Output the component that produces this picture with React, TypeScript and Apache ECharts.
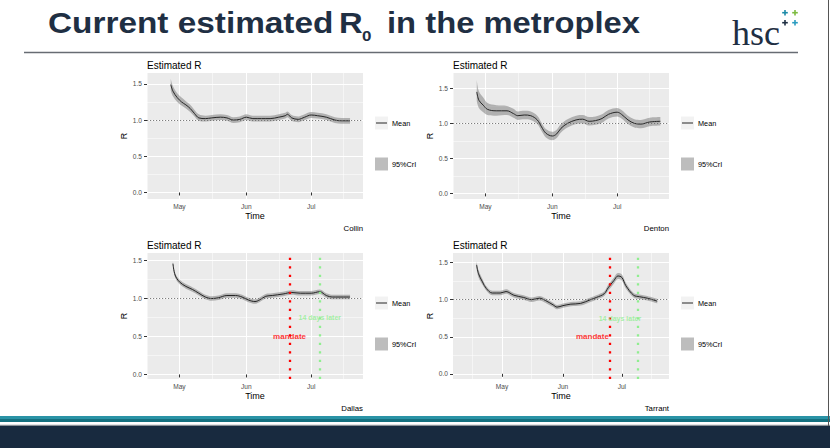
import React, { useEffect, useRef } from 'react';
import * as echarts from 'echarts';

const FONT = '"Liberation Sans", Arial, Helvetica, sans-serif';
const SERIF = '"Liberation Serif", "Times New Roman", serif';
const YEAR = '2020-';

// ---------- data (dates are MM-DD in 2020) ----------
const collinDates = ['04-27', '04-28', '04-30', '05-02', '05-04', '05-06', '05-08', '05-10', '05-13', '05-16', '05-20', '05-23', '05-26', '05-29', '06-01', '06-04', '06-08', '06-12', '06-16', '06-19', '06-20', '06-22', '06-25', '06-28', '07-01', '07-04', '07-08', '07-12', '07-15', '07-19'];
const collinMean = [1.49, 1.40, 1.31, 1.25, 1.21, 1.16, 1.09, 1.03, 1.02, 1.03, 1.04, 1.03, 1.00, 1.01, 1.04, 1.02, 1.02, 1.02, 1.04, 1.06, 1.08, 1.03, 1.01, 1.04, 1.07, 1.06, 1.04, 1.00, 0.99, 0.99];
const collinLo = [1.41, 1.33, 1.25, 1.20, 1.16, 1.11, 1.05, 0.99, 0.98, 0.99, 1.00, 0.99, 0.96, 0.97, 1.00, 0.98, 0.98, 0.98, 1.00, 1.02, 1.04, 0.99, 0.97, 1.00, 1.03, 1.02, 1.00, 0.96, 0.95, 0.95];
const collinHi = [1.57, 1.47, 1.37, 1.31, 1.26, 1.21, 1.14, 1.08, 1.06, 1.07, 1.08, 1.07, 1.04, 1.05, 1.08, 1.06, 1.06, 1.06, 1.08, 1.10, 1.12, 1.07, 1.05, 1.08, 1.11, 1.10, 1.08, 1.04, 1.03, 1.03];

const dentonDates = ['04-27', '04-28', '04-30', '05-02', '05-06', '05-11', '05-14', '05-16', '05-19', '05-22', '05-25', '05-27', '05-29', '06-01', '06-03', '06-05', '06-08', '06-12', '06-15', '06-18', '06-21', '06-24', '06-27', '07-01', '07-03', '07-06', '07-09', '07-12', '07-16', '07-21'];
const dentonMean = [1.45, 1.33, 1.26, 1.20, 1.18, 1.18, 1.14, 1.11, 1.12, 1.11, 1.05, 0.95, 0.86, 0.82, 0.85, 0.93, 1.00, 1.05, 1.06, 1.03, 1.04, 1.07, 1.13, 1.16, 1.13, 1.05, 1.00, 0.99, 1.02, 1.03];
const dentonLo = [1.32, 1.22, 1.16, 1.12, 1.11, 1.12, 1.08, 1.05, 1.06, 1.05, 0.99, 0.89, 0.80, 0.76, 0.79, 0.87, 0.94, 0.99, 1.00, 0.97, 0.98, 1.01, 1.07, 1.10, 1.07, 0.99, 0.94, 0.93, 0.96, 0.97];
const dentonHi = [1.62, 1.46, 1.37, 1.29, 1.26, 1.25, 1.21, 1.17, 1.18, 1.17, 1.11, 1.01, 0.92, 0.88, 0.91, 0.99, 1.06, 1.11, 1.12, 1.09, 1.10, 1.13, 1.19, 1.22, 1.19, 1.11, 1.06, 1.05, 1.08, 1.09];

const dallasDates = ['04-28', '04-29', '05-01', '05-04', '05-07', '05-10', '05-13', '05-16', '05-19', '05-23', '05-27', '05-30', '06-02', '06-05', '06-07', '06-10', '06-13', '06-18', '06-22', '06-26', '07-01', '07-05', '07-08', '07-11', '07-19'];
const dallasMean = [1.46, 1.31, 1.22, 1.16, 1.12, 1.07, 1.02, 1.00, 1.01, 1.04, 1.04, 1.02, 0.98, 0.96, 0.98, 1.03, 1.04, 1.06, 1.08, 1.07, 1.07, 1.09, 1.04, 1.02, 1.02];
const dallasLo = [1.43, 1.28, 1.19, 1.13, 1.09, 1.04, 0.99, 0.97, 0.98, 1.01, 1.01, 0.99, 0.95, 0.93, 0.95, 1.00, 1.01, 1.03, 1.05, 1.04, 1.04, 1.06, 1.01, 0.99, 0.99];
const dallasHi = [1.49, 1.34, 1.25, 1.19, 1.15, 1.10, 1.05, 1.03, 1.04, 1.07, 1.07, 1.05, 1.01, 0.99, 1.01, 1.06, 1.07, 1.09, 1.11, 1.10, 1.10, 1.12, 1.07, 1.05, 1.05];

const tarrantDates = ['04-18', '04-19', '04-21', '04-23', '04-26', '04-30', '05-03', '05-07', '05-12', '05-16', '05-20', '05-23', '05-27', '05-29', '06-01', '06-05', '06-10', '06-15', '06-18', '06-22', '06-24', '06-27', '06-29', '07-01', '07-03', '07-07', '07-10', '07-14', '07-19'];
const tarrantMean = [1.47, 1.35, 1.24, 1.15, 1.09, 1.09, 1.11, 1.06, 1.03, 1.00, 1.02, 0.99, 0.93, 0.90, 0.92, 0.94, 0.95, 1.00, 1.03, 1.08, 1.16, 1.26, 1.32, 1.30, 1.19, 1.06, 1.04, 1.02, 0.98];
const tarrantLo = [1.42, 1.30, 1.20, 1.12, 1.06, 1.06, 1.08, 1.03, 1.00, 0.97, 0.99, 0.96, 0.90, 0.87, 0.89, 0.91, 0.92, 0.97, 1.00, 1.05, 1.12, 1.22, 1.28, 1.26, 1.15, 1.03, 1.01, 0.99, 0.95];
const tarrantHi = [1.52, 1.40, 1.28, 1.18, 1.12, 1.12, 1.14, 1.09, 1.06, 1.03, 1.05, 1.02, 0.96, 0.93, 0.95, 0.97, 0.98, 1.03, 1.06, 1.11, 1.20, 1.30, 1.36, 1.34, 1.23, 1.09, 1.07, 1.05, 1.01];

// ---------- ticks / labels ----------
const monthTicks = ['05-01', '06-01', '07-01'];
const monthLabels = ['May', 'Jun', 'Jul'];
const minorDays = ['04-16', '05-16', '06-16', '07-16'];
const yTicks = [0, 0.5, 1.0, 1.5];
const yMinor = [0.25, 0.75, 1.25];
const countyNames = ['Collin', 'Denton', 'Dallas', 'Tarrant'];
const legendLabels = ['Mean', '95%CrI'];
const refLine = 1;

// mandate annotations (Dallas, Tarrant)
const mandateDates = ['06-21', '06-25'];
const laterDates = ['07-05', '07-09'];
const mandateLabelAt: [string, number][] = [['06-21', 0.5], ['06-16', 0.5]];
const laterLabelAt: [string, number][] = [['07-05', 0.75], ['06-30', 0.75]];

const datasets = [
  { dates: collinDates, mean: collinMean, lo: collinLo, hi: collinHi },
  { dates: dentonDates, mean: dentonMean, lo: dentonLo, hi: dentonHi },
  { dates: dallasDates, mean: dallasMean, lo: dallasLo, hi: dallasHi },
  { dates: tarrantDates, mean: tarrantMean, lo: tarrantLo, hi: tarrantHi },
];

// ---------- layout ----------
const layouts = [
  { left: 147, top: 73, width: 216, height: 126, xStart: '04-16', xEnd: '07-25', yMin: -0.09, yMax: 1.65 },
  { left: 453, top: 73, width: 216, height: 126, xStart: '04-16', xEnd: '07-25', yMin: -0.08, yMax: 1.72 },
  { left: 147, top: 253, width: 216, height: 126, xStart: '04-16', xEnd: '07-25', yMin: -0.06, yMax: 1.60 },
  { left: 453, top: 253, width: 216, height: 126, xStart: '04-06', xEnd: '07-25', yMin: -0.07, yMax: 1.63 },
];

function dayList(start: string, end: string): string[] {
  const out: string[] = [];
  const s = new Date(Date.UTC(2020, +start.slice(0, 2) - 1, +start.slice(3)));
  const e = new Date(Date.UTC(2020, +end.slice(0, 2) - 1, +end.slice(3)));
  for (let d = s; d.getTime() <= e.getTime(); d = new Date(d.getTime() + 86400000)) {
    const mm = String(d.getUTCMonth() + 1).padStart(2, '0');
    const dd = String(d.getUTCDate()).padStart(2, '0');
    out.push(mm + '-' + dd);
  }
  return out;
}

function yCats(min: number, max: number): string[] {
  const out: string[] = [];
  const a = Math.round(min * 100);
  const b = Math.round(max * 100);
  for (let k = a; k <= b; k++) out.push((k / 100).toFixed(2));
  return out;
}

const majorY = new Set(yTicks.map((v) => v.toFixed(2)));
const minorY = new Set(yMinor.map((v) => v.toFixed(2)));
const majorX = new Set(monthTicks);
const minorX = new Set(minorDays);

function buildOption() {
  const grid: any[] = [];
  const xAxis: any[] = [];
  const yAxis: any[] = [];
  const series: any[] = [];
  const graphic: any[] = [];
  const smooth = 0.35;

  layouts.forEach((L, p) => {
    grid.push({ left: L.left, top: L.top, width: L.width, height: L.height, show: true, backgroundColor: '#EBEBEB', borderWidth: 0, containLabel: false });
    const days = dayList(L.xStart, L.xEnd);
    const ys = yCats(L.yMin, L.yMax);

    xAxis.push({
      type: 'category', gridIndex: p, data: days, boundaryGap: false, position: 'bottom',
      axisLine: { show: false },
      axisTick: { show: true, length: 3, interval: (i: number, v: string) => majorX.has(v), lineStyle: { color: '#333333', width: 1 } },
      axisLabel: { interval: (i: number, v: string) => majorX.has(v), formatter: (v: string) => monthLabels[monthTicks.indexOf(v)] || '', color: '#4D4D4D', fontSize: 6.6, margin: 4, fontFamily: FONT },
      splitLine: { show: true, interval: (i: number, v: string) => majorX.has(v), lineStyle: { color: '#FFFFFF', width: 1 } },
      name: 'Time', nameLocation: 'middle', nameGap: 12, nameTextStyle: { color: '#000', fontSize: 9, fontFamily: FONT },
    });
    xAxis.push({
      type: 'category', gridIndex: p, data: days, boundaryGap: false, position: 'bottom',
      axisLine: { show: false }, axisTick: { show: false }, axisLabel: { show: false },
      splitLine: { show: true, interval: (i: number, v: string) => minorX.has(v), lineStyle: { color: '#FFFFFF', width: 0.5 } },
    });
    xAxis.push({ type: 'time', gridIndex: p, min: YEAR + L.xStart, max: YEAR + L.xEnd, show: false, splitLine: { show: false } });

    yAxis.push({
      type: 'category', gridIndex: p, data: ys, boundaryGap: false, position: 'left',
      axisLine: { show: false },
      axisTick: { show: true, length: 3, interval: (i: number, v: string) => majorY.has(v), lineStyle: { color: '#333333', width: 1 } },
      axisLabel: { interval: (i: number, v: string) => majorY.has(v), formatter: (v: string) => Number(v).toFixed(1), color: '#4D4D4D', fontSize: 6.6, margin: 5, fontFamily: FONT },
      splitLine: { show: true, interval: (i: number, v: string) => majorY.has(v), lineStyle: { color: '#FFFFFF', width: 1 } },
      name: 'R', nameLocation: 'middle', nameRotate: 90, nameGap: 13, nameTextStyle: { color: '#000', fontSize: 9, fontFamily: FONT },
    });
    yAxis.push({
      type: 'category', gridIndex: p, data: ys, boundaryGap: false, position: 'left',
      axisLine: { show: false }, axisTick: { show: false }, axisLabel: { show: false },
      splitLine: { show: true, interval: (i: number, v: string) => minorY.has(v), lineStyle: { color: '#FFFFFF', width: 0.5 } },
    });
    yAxis.push({ type: 'value', gridIndex: p, min: L.yMin, max: L.yMax, show: false, splitLine: { show: false } });

    const D = datasets[p];
    const xi = 3 * p + 2;
    series.push({
      type: 'line', name: 'lower' + p, xAxisIndex: xi, yAxisIndex: xi, stack: 'ci' + p, silent: true,
      data: D.dates.map((d, i) => [YEAR + d, D.lo[i]]), symbol: 'none', smooth, lineStyle: { opacity: 0 }, z: 2,
      markLine: { silent: true, symbol: 'none', label: { show: false }, lineStyle: { color: '#6E6E6E', width: 0.9, type: [1.2, 1.8] }, data: [{ yAxis: refLine }] },
    });
    series.push({
      type: 'line', name: '95%CrI', xAxisIndex: xi, yAxisIndex: xi, stack: 'ci' + p, silent: true,
      data: D.dates.map((d, i) => [YEAR + d, +(D.hi[i] - D.lo[i]).toFixed(3)]), symbol: 'none', smooth,
      lineStyle: { opacity: 0 }, areaStyle: { color: 'rgba(105,105,105,0.45)', opacity: 1 }, z: 2,
    });
    series.push({
      type: 'line', name: 'Mean', xAxisIndex: xi, yAxisIndex: xi, silent: true,
      data: D.dates.map((d, i) => [YEAR + d, D.mean[i]]), symbol: 'none', smooth,
      lineStyle: { color: '#262626', width: 1 }, z: 3,
    });

    if (p >= 2) {
      const k = p - 2;
      series.push({
        type: 'scatter', xAxisIndex: xi, yAxisIndex: xi, silent: true, symbolSize: 2, z: 5,
        itemStyle: { color: 'rgba(0,0,0,0)' },
        labelLayout: { hideOverlap: false },
        label: { show: true, position: 'inside', fontFamily: FONT },
        data: [
          { value: [YEAR + mandateLabelAt[k][0], mandateLabelAt[k][1]], label: { show: true, formatter: 'mandate', color: '#FF0000', fontWeight: 'bold', fontSize: 8 } },
          { value: [YEAR + laterLabelAt[k][0], laterLabelAt[k][1]], label: { show: true, formatter: '14 days later', color: '#90EE90', fontWeight: 'bold', fontSize: 7 } },
        ],
        markLine: {
          silent: true, symbol: 'none', label: { show: false },
          data: [
            { xAxis: YEAR + mandateDates[k], lineStyle: { color: '#FF0000', width: 2.3, type: [2.3, 6.2] } },
            { xAxis: YEAR + laterDates[k], lineStyle: { color: '#90EE90', width: 2.3, type: [2.3, 6.2] } },
          ],
        },
      });
    }

    // panel title, caption, legend
    graphic.push({ type: 'text', x: L.left, y: L.top - 8, style: { text: 'Estimated R', fill: '#000', fontSize: 10, fontFamily: FONT, align: 'left', verticalAlign: 'middle' } });
    graphic.push({ type: 'text', x: L.left + L.width, y: L.top + 155, style: { text: countyNames[p], fill: '#000', fontSize: 7.8, fontFamily: FONT, align: 'right', verticalAlign: 'middle' } });
    const kx = L.left + L.width + 12;
    const my = L.top + 50;
    const cy = L.top + 91;
    graphic.push({ type: 'rect', shape: { x: kx, y: my - 6.5, width: 13, height: 13 }, style: { fill: '#F2F2F2' } });
    graphic.push({ type: 'line', shape: { x1: kx + 1, y1: my, x2: kx + 12, y2: my }, style: { stroke: '#262626', lineWidth: 1 } });
    graphic.push({ type: 'text', x: kx + 17, y: my, style: { text: legendLabels[0], fill: '#000', fontSize: 7.3, fontFamily: FONT, align: 'left', verticalAlign: 'middle' } });
    graphic.push({ type: 'rect', shape: { x: kx, y: cy - 6.5, width: 13, height: 13 }, style: { fill: '#BDBDBD' } });
    graphic.push({ type: 'text', x: kx + 17, y: cy, style: { text: legendLabels[1], fill: '#000', fontSize: 7.3, fontFamily: FONT, align: 'left', verticalAlign: 'middle' } });
  });

  // slide title
  const navy = '#1F2F43';
  const tStyle = { fill: navy, fontSize: 29, fontWeight: 'bold', fontFamily: FONT, align: 'left', verticalAlign: 'middle' };
  graphic.push({ type: 'text', x: 48, y: 23.5, scaleX: 1.15, style: { ...tStyle, text: 'Current estimated' } });
  graphic.push({ type: 'text', x: 339, y: 23.5, scaleX: 1.13, style: { ...tStyle, text: 'R' } });
  graphic.push({ type: 'text', x: 362, y: 36, scaleX: 1.13, style: { ...tStyle, text: '0', fontSize: 15 } });
  graphic.push({ type: 'text', x: 387, y: 23.5, scaleX: 1.13, style: { ...tStyle, text: 'in the metroplex' } });
  graphic.push({ type: 'line', shape: { x1: 24, y1: 52.5, x2: 798, y2: 52.5 }, style: { stroke: '#676C73', lineWidth: 1.6 } });

  // logo
  graphic.push({ type: 'text', x: 732, y: 33, style: { text: 'hsc', fill: navy, fontSize: 36, fontFamily: SERIF, align: 'left', verticalAlign: 'middle' } });
  const crosses = [
    { x: 785, y: 12.7, c: '#1C8BA8' },
    { x: 795, y: 12.7, c: '#7DBB3F' },
    { x: 785, y: 22.7, c: navy },
    { x: 795, y: 22.7, c: '#2A9CC0' },
  ];
  crosses.forEach((cr) => {
    graphic.push({ type: 'line', shape: { x1: cr.x - 2.8, y1: cr.y, x2: cr.x + 2.8, y2: cr.y }, style: { stroke: cr.c, lineWidth: 1.6 } });
    graphic.push({ type: 'line', shape: { x1: cr.x, y1: cr.y - 2.8, x2: cr.x, y2: cr.y + 2.8 }, style: { stroke: cr.c, lineWidth: 1.6 } });
  });

  // footer bars
  graphic.push({ type: 'rect', shape: { x: 0, y: 416, width: 830, height: 3 }, style: { fill: '#2A93A6' } });
  graphic.push({ type: 'rect', shape: { x: 0, y: 419, width: 830, height: 3 }, style: { fill: '#15707F' } });
  graphic.push({ type: 'rect', shape: { x: 0, y: 424.7, width: 830, height: 1.2 }, style: { fill: '#8A9096' } });
  graphic.push({ type: 'rect', shape: { x: 0, y: 426, width: 830, height: 22 }, style: { fill: '#182A3F' } });
  graphic.push({ type: 'line', shape: { x1: 828.5, y1: 0, x2: 828.5, y2: 426 }, style: { stroke: '#555', lineWidth: 1 } });

  return {
    animation: false,
    backgroundColor: '#FFFFFF',
    textStyle: { fontFamily: FONT },
    grid, xAxis, yAxis, series, graphic,
  };
}

export default function App() {
  const ref = useRef<HTMLDivElement>(null);
  useEffect(() => {
    if (!ref.current) return;
    const chart = echarts.init(ref.current, null, { renderer: 'svg' });
    chart.setOption(buildOption() as any);
    return () => chart.dispose();
  }, []);
  return <div ref={ref} style={{ position: 'fixed', left: 0, top: 0, width: 830, height: 448, background: '#fff' }} />;
}
